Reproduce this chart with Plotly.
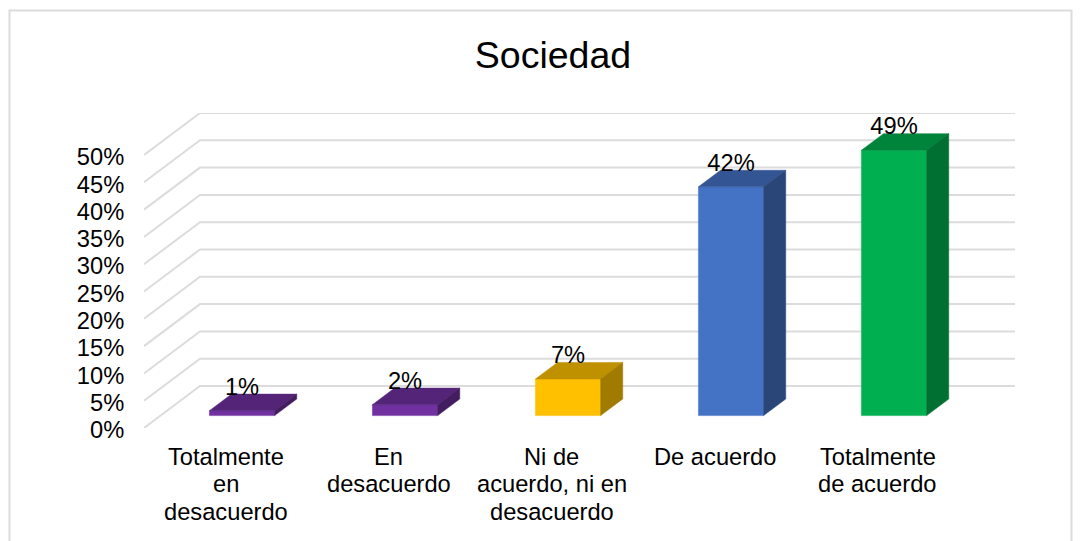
import plotly.graph_objects as go

# values
categories = [["Totalmente", "en", "desacuerdo"], ["En", "desacuerdo"], ["Ni de", "acuerdo, ni en", "desacuerdo"],
              ["De acuerdo"], ["Totalmente", "de acuerdo"]]
values = [0.9, 2.0, 6.7, 41.9, 48.6]
y_ticks = [0, 5, 10, 15, 20, 25, 30, 35, 40, 45, 50]
front_colors = ["#7030A0", "#7030A0", "#FFC000", "#4472C4", "#00B050"]
top_colors = ["#542478", "#542478", "#BF9000", "#335593", "#00843C"]
side_colors = ["#431D60", "#431D60", "#A07B00", "#2A4678", "#006F32"]

W, H = 1081, 541
L, R, T, B = 144, 1015, 113, 428  # back wall / floor in pixels
FONT = "Liberation Sans, Arial, sans-serif"
GRID = "#DCDCDC"

# oblique offset of the back wall, in axis units
px_x = (R - L - 56) / 5
px_y = 5.46
depth_x = 56 / px_x
depth_y = 42 / px_y
x_max = 4.5 + depth_x
y_max = depth_y + 50

bar_half = 0.2
d0, d1 = 0.295, 0.69  # bar front and back, as a part of the depth

fig = go.Figure()


def poly(xs, ys, color):
    fig.add_trace(go.Scatter(x=xs, y=ys, mode="lines", fill="toself", fillcolor=color,
                             line=dict(color=color, width=0.5), hoverinfo="skip", showlegend=False))


# walls
for t in y_ticks:
    fig.add_trace(go.Scatter(x=[-0.5, -0.5 + depth_x, x_max], y=[t, t + depth_y, t + depth_y], mode="lines",
                             line=dict(color=GRID, width=2), hoverinfo="skip", showlegend=False))

# bars
for i, v in enumerate(values):
    x0 = i - bar_half + d0 * depth_x
    x1 = i + bar_half + d0 * depth_x
    dx = (d1 - d0) * depth_x
    dy = (d1 - d0) * depth_y
    y0 = d0 * depth_y
    y1 = y0 + v
    poly([x0, x1, x1, x0, x0], [y0, y0, y1, y1, y0], front_colors[i])
    poly([x0, x1, x1 + dx, x0 + dx, x0], [y1, y1, y1 + dy, y1 + dy, y1], top_colors[i])
    poly([x1, x1 + dx, x1 + dx, x1, x1], [y0, y0 + dy, y1 + dy, y1, y0], side_colors[i])

# data labels
fig.add_trace(go.Scatter(
    x=[i + d0 * depth_x for i in range(len(values))],
    y=[v + d1 * depth_y + 1.0 for v in values],
    text=[f"{round(v)}%" for v in values],
    mode="text", textposition="middle center",
    textfont=dict(family=FONT, size=23.7, color="#000000"),
    hoverinfo="skip", showlegend=False,
))

# category labels, line by line: the line spacing of the tick labels is too wide
notes = []
for i, lines in enumerate(categories):
    for k, line in enumerate(lines):
        notes.append(dict(x=i, y=0, xref="x", yref="y", text=line, showarrow=False, xanchor="center", yanchor="middle",
                          yshift=-29 - 27.3 * k, font=dict(family=FONT, size=23.7, color="#000000")))

fig.update_layout(
    width=W, height=H,
    margin=dict(l=L, r=W - R, t=T, b=H - B, pad=0),
    paper_bgcolor="#FFFFFF", plot_bgcolor="rgba(0,0,0,0)",
    font=dict(family=FONT, size=23.7, color="#000000"),
    title=dict(text="Sociedad", x=553 / W, xanchor="center", xref="container", y=1 - 55 / H, yanchor="middle",
               font=dict(family=FONT, size=37.5, color="#000000")),
    xaxis=dict(range=[-0.5, x_max], showticklabels=False, ticks="", automargin=False,
               showgrid=False, zeroline=False, showline=False, fixedrange=True),
    yaxis=dict(range=[0, y_max], tickmode="array", tickvals=y_ticks, ticktext=[f"{t}%" for t in y_ticks],
               automargin=False, showgrid=False, zeroline=False, showline=False, ticks="outside", ticklen=14,
               tickcolor="rgba(0,0,0,0)", ticklabelshift=2, fixedrange=True),
    annotations=notes,
    shapes=[dict(type="rect", xref="paper", yref="paper",
                 x0=(9.5 - L) / (R - L), x1=(1071.5 - L) / (R - L),
                 y0=(B - 560) / (B - T), y1=(B - 10.5) / (B - T),
                 line=dict(color=GRID, width=2), layer="below")],
)

fig.write_html("out.html", config={"displayModeBar": False}, post_script="document.body.style.margin = '0';")
